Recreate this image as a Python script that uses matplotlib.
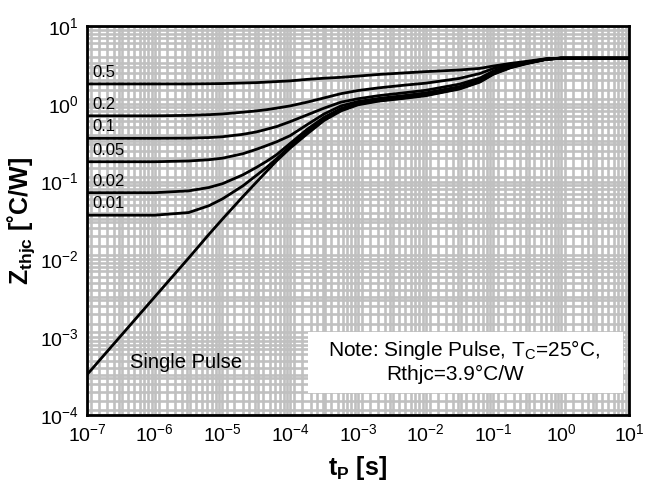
import numpy as np
import matplotlib
matplotlib.use("Agg")
import matplotlib.pyplot as plt
from matplotlib.ticker import LogLocator, NullFormatter
from matplotlib.patches import Rectangle

plt.rcParams['font.family'] = ['Liberation Sans', 'DejaVu Sans']
plt.rcParams['mathtext.fontset'] = 'custom'
plt.rcParams['mathtext.rm'] = 'Liberation Sans'
plt.rcParams['mathtext.bf'] = 'Liberation Sans:bold'

# pulse width [s] (log10 values)
log_tp = [-7, -6, -5.5, -5.2, -5, -4.7, -4.5, -4.35, -4.2, -4, -3.75, -3.5, -3.25,
          -3, -2.7, -2.3, -2, -1.5, -1.2, -1, -0.75, -0.5, -0.22, 0, 1]
tp = [10.0 ** v for v in log_tp]

# thermal impedance [C/W] for each duty cycle
z_05 = [1.80, 1.80, 1.80, 1.81, 1.82, 1.85, 1.87, 1.90, 1.93, 1.97, 2.06, 2.13, 2.19,
        2.27, 2.38, 2.50, 2.59, 2.72, 2.85, 3.06, 3.30, 3.52, 3.80, 3.86, 3.86]
z_02 = [0.70, 0.70, 0.71, 0.725, 0.74, 0.78, 0.81, 0.84, 0.88, 0.94, 1.05, 1.19, 1.35,
        1.48, 1.60, 1.74, 1.84, 2.12, 2.45, 2.85, 3.20, 3.45, 3.77, 3.86, 3.86]
z_01 = [0.36, 0.36, 0.362, 0.368, 0.377, 0.405, 0.435, 0.47, 0.51, 0.59, 0.72, 0.88, 1.05,
        1.16, 1.27, 1.39, 1.49, 1.79, 2.14, 2.64, 3.10, 3.40, 3.75, 3.86, 3.86]
z_005 = [0.18, 0.18, 0.184, 0.191, 0.20, 0.228, 0.26, 0.29, 0.325, 0.39, 0.54, 0.74, 0.94,
         1.07, 1.17, 1.28, 1.38, 1.66, 2.03, 2.53, 3.03, 3.37, 3.74, 3.86, 3.86]
z_002 = [0.072, 0.072, 0.076, 0.084, 0.094, 0.122, 0.152, 0.182, 0.222, 0.31, 0.47, 0.67, 0.87,
         1.01, 1.12, 1.23, 1.33, 1.60, 1.97, 2.47, 2.97, 3.34, 3.74, 3.86, 3.86]
z_001 = [0.037, 0.037, 0.040, 0.049, 0.060, 0.088, 0.12, 0.152, 0.197, 0.285, 0.44, 0.64, 0.84,
         0.99, 1.10, 1.20, 1.29, 1.57, 1.93, 2.43, 2.93, 3.32, 3.73, 3.86, 3.86]
z_sp = [3.3e-4, 3.3e-3, 0.0104, 0.021, 0.033, 0.064, 0.098, 0.135, 0.185, 0.27, 0.41, 0.61, 0.81,
        0.97, 1.08, 1.18, 1.27, 1.55, 1.90, 2.40, 2.90, 3.30, 3.72, 3.86, 3.86]

duty_labels = ['0.5', '0.2', '0.1', '0.05', '0.02', '0.01']
duty_curves = [z_05, z_02, z_01, z_005, z_002, z_001]

fig = plt.figure(figsize=(6.47, 4.95), dpi=100)
ax = fig.add_axes([0.1345, 0.1616, 0.8375, 0.7859])
ax.set_xscale('log')
ax.set_yscale('log')
ax.set_xlim(1e-7, 1e1)
ax.set_ylim(1e-4, 1e1)

# dense grey grid like the datasheet
subs = [1.15, 1.5, 2, 2.5, 3, 3.3, 4, 5, 6, 7, 8, 9]
ax.xaxis.set_major_locator(LogLocator(base=10, numticks=20))
ax.yaxis.set_major_locator(LogLocator(base=10, numticks=20))
ax.xaxis.set_minor_locator(LogLocator(base=10, subs=subs, numticks=20))
ax.yaxis.set_minor_locator(LogLocator(base=10, subs=subs, numticks=20))
ax.xaxis.set_minor_formatter(NullFormatter())
ax.yaxis.set_minor_formatter(NullFormatter())
ax.grid(True, which='both', color='#c0c0c0', linewidth=1.9)
ax.set_axisbelow(True)
ax.tick_params(which='both', length=0, labelsize=14, pad=6)

for lab, z in zip(duty_labels, duty_curves):
    ax.plot(tp, z, color='black', linewidth=2)
    ax.text(1.2e-7, z[0] * 1.12, lab, fontsize=12, va='bottom', ha='left')
ax.plot(tp, z_sp, color='black', linewidth=2)

ax.text(2.9e-6, 4.8e-4, 'Single Pulse', fontsize=14.5, ha='center', va='center')

ax.add_patch(Rectangle((0.408, 0.057), 0.581, 0.156, transform=ax.transAxes,
                       facecolor='white', edgecolor='none', zorder=2.5))
ax.text(0.445, 0.167, 'Note: Single Pulse, T$_\\mathregular{C}$=25°C,', transform=ax.transAxes,
        fontsize=15, va='center', ha='left', zorder=3)
ax.text(0.553, 0.104, 'Rthjc=3.9°C/W', transform=ax.transAxes,
        fontsize=15, va='center', ha='left', zorder=3)

for s in ax.spines.values():
    s.set_linewidth(2)
    s.set_zorder(5)

ax.set_xlabel('$\\mathbf{t_P}$ [s]', fontsize=18, fontweight='bold', labelpad=6)
ax.set_ylabel('$\\mathbf{Z_{thjc}}$ [\u02daC/W]', fontsize=18, fontweight='bold', labelpad=2)

fig.savefig('out.png', dpi=100)
